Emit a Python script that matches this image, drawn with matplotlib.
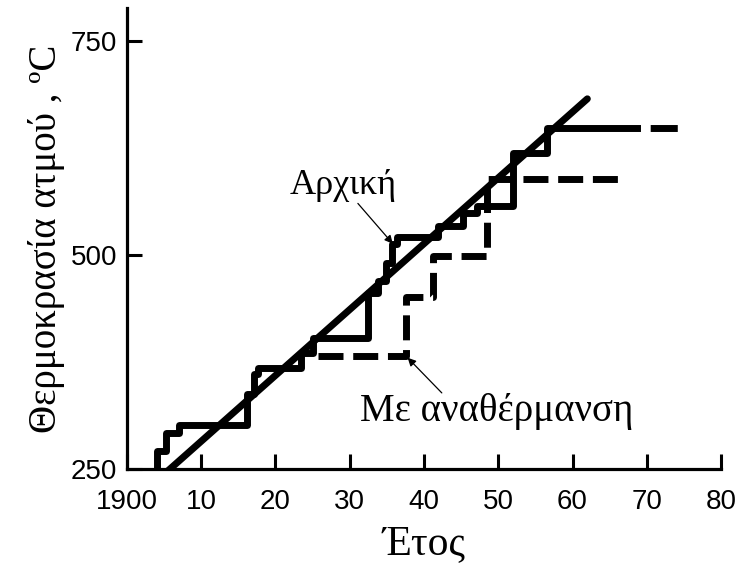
import matplotlib
matplotlib.use("Agg")
import matplotlib.pyplot as plt
from matplotlib import font_manager

# Τιμές διαβασμένες από το σχήμα
orig_year = [1904, 1904, 1905.3, 1907, 1916.2, 1917.1, 1917.6, 1923.5, 1925, 1932.5,
             1933.8, 1934.9, 1935.7, 1936.4, 1941.9, 1945.3, 1947.1, 1952, 1956.6, 1968.7]
orig_temp = [250, 271, 292, 302, 338, 361, 368, 385, 403, 456,
             470, 491, 513, 521, 534, 549, 557, 619, 648, 648]
orig_ext_year = [1968.7, 1974.5]
orig_ext_temp = [648, 648]

reheat_year = [1925.7, 1937.6, 1941.2, 1948.5, 1966.1]
reheat_temp = [382, 451, 499, 589, 589]

trend_year = [1905.5, 1962.0]
trend_temp = [248, 682]

xticks = [1900, 1910, 1920, 1930, 1940, 1950, 1960, 1970, 1980]
xtick_labels = ["1900", "10", "20", "30", "40", "50", "60", "70", "80"]
yticks = [250, 500, 750]

names = {f.name for f in font_manager.fontManager.ttflist}
if "Liberation Sans Narrow" in names:
    tick_font, tick_size = "Liberation Sans Narrow", 23
else:
    tick_font, tick_size = "Liberation Sans", 20
serif = ["Liberation Serif", "DejaVu Serif"]

fig = plt.figure(figsize=(7.38, 5.66), dpi=100)
ax = fig.add_axes([0.172, 0.171, 0.805, 0.815])

lw = 5
ax.plot(trend_year, trend_temp, color="black", lw=lw, solid_capstyle="round")
ax.step(orig_year, orig_temp, where="post", color="black", lw=lw)
# προέκταση: κενό πρώτα, μετά παύλα
ax.plot(orig_ext_year, orig_ext_temp, color="black", lw=lw,
        linestyle=(3.9, (3.9, 1.9)))
ax.step(reheat_year, reheat_temp, where="post", color="black", lw=lw,
        linestyle=(0, (3.6, 1.4)))

ax.set_xlim(1900, 1980)
ax.set_ylim(250, 788)

for s in ["top", "right"]:
    ax.spines[s].set_visible(False)
for s in ["left", "bottom"]:
    ax.spines[s].set_linewidth(2.3)

ax.set_xticks(xticks)
ax.set_xticklabels(xtick_labels, family=tick_font, fontsize=tick_size)
ax.set_yticks(yticks)
ax.set_yticklabels([str(v) for v in yticks], family=tick_font, fontsize=tick_size)
ax.tick_params(axis="both", direction="in", length=11, width=2.2)
ax.tick_params(axis="x", pad=14)
ax.tick_params(axis="y", pad=7)

ax.set_xlabel("Έτος", family=serif, fontsize=30, labelpad=7)
ax.set_ylabel("Θερμοκρασία ατμού , ºC", family=serif, fontsize=28, labelpad=4)

ax.text(1929.1, 581, "Αρχική", family=serif, fontsize=26, ha="center", va="center")
ax.annotate("", xy=(1935.8, 513), xytext=(1931.1, 560),
            arrowprops=dict(arrowstyle="-|>", color="black", lw=0.9,
                            mutation_scale=12, shrinkA=0, shrinkB=0))
ax.text(1949.8, 317, "Με αναθέρμανση", family=serif, fontsize=28, ha="center", va="center")
ax.annotate("", xy=(1937.8, 380), xytext=(1942.4, 339),
            arrowprops=dict(arrowstyle="-|>", color="black", lw=0.9,
                            mutation_scale=12, shrinkA=0, shrinkB=0))

fig.savefig("out.png", dpi=100)
